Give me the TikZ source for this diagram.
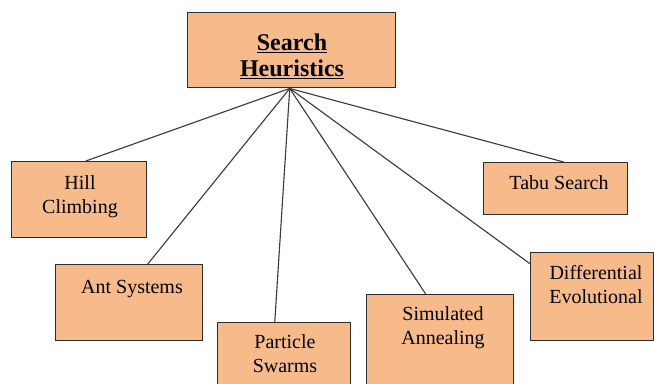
\documentclass[tikz,border=0pt]{standalone}
\usepackage{fontspec}
\setmainfont{Liberation Serif}
\definecolor{boxfill}{RGB}{246,186,139}
\definecolor{boxline}{RGB}{45,45,45}
\definecolor{conn}{RGB}{60,60,60}
\begin{document}
\begin{tikzpicture}[x=0.75pt,y=-0.75pt,
  box/.style={draw=boxline,line width=1.1pt,fill=boxfill,anchor=north west,inner sep=0pt},
  txt/.style={anchor=base,align=center,inner sep=0pt,font=\fontsize{15}{17.3}\selectfont},
  ttl/.style={anchor=base,align=center,inner sep=0pt,font=\fontsize{18}{19.5}\selectfont\bfseries},
  conn/.style={draw=conn,line width=0.85pt}]
\useasboundingbox (0,0) rectangle (654,383);
\begin{scope}
\clip (0,0) rectangle (654,383);
\node[box,minimum width=208*0.75pt,minimum height=75*0.75pt] (sh) at (187,12) {};
\node[box,minimum width=135*0.75pt,minimum height=76*0.75pt] (hc) at (11,161) {};
\node[box,minimum width=147*0.75pt,minimum height=76*0.75pt] (as) at (55,264) {};
\node[box,minimum width=133*0.75pt,minimum height=75*0.75pt] (ps) at (217,322) {};
\node[box,minimum width=147*0.75pt,minimum height=100*0.75pt] (sa) at (366,294) {};
\node[box,minimum width=144*0.75pt,minimum height=52*0.75pt] (ts) at (483,162) {};
\node[box,minimum width=123*0.75pt,minimum height=88*0.75pt] (de) at (530,252) {};
\coordinate (hub) at ([xshift=-1.5pt]sh.south);
\draw[conn] (hub) -- ([xshift=4.9pt]hc.north);
\draw[conn] (hub) -- ([xshift=13.9pt]as.north);
\draw[conn] (hub) -- ([xshift=-7.1pt]ps.north);
\draw[conn] (hub) -- ([xshift=-10.9pt]sa.north);
\draw[conn] (hub) -- ([xshift=6pt]ts.north);
\draw[conn] (hub) -- ([yshift=24.75pt]de.west);
\node[ttl] (tsh) at (292,76) {\underline{Search}\\\underline{Heuristics}};
\node[txt] (thc) at (80,213) {Hill\\Climbing};
\node[txt] (tas) at (132,293) {Ant Systems};
\node[txt] (tps) at (285,372) {Particle\\Swarms};
\node[txt] (tsa) at (443,344) {Simulated\\Annealing};
\node[txt] (tts) at (559,189) {Tabu Search};
\node[txt] (tde) at (596,303) {Differential\\Evolutional};
\end{scope}
\end{tikzpicture}
\end{document}
